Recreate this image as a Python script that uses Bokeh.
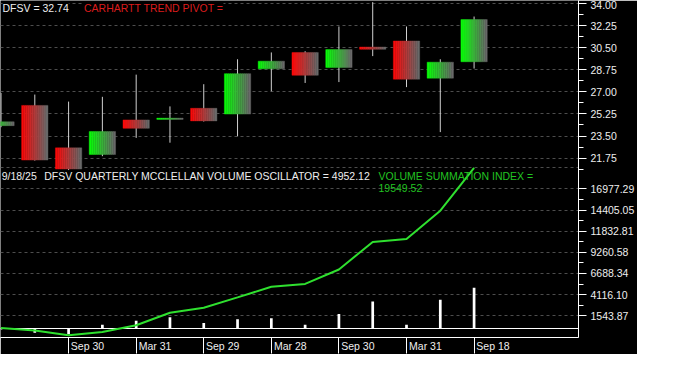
from bokeh.plotting import figure
from bokeh.models import Range1d, FixedTicker, Label
from bokeh.embed import file_html
from bokeh.resources import INLINE

# ---------------- data ----------------
quarters = ["Q1 22", "Q2 22", "Q3 22", "Q4 22", "Q1 23", "Q2 23", "Q3 23", "Q4 23",
            "Q1 24", "Q2 24", "Q3 24", "Q4 24", "Q1 25", "Q2 25", "Q3 25"]
open_ = [24.32, 25.93, 22.56, 22.03, 24.78, 24.82, 25.70, 25.24, 28.83, 30.13, 28.93, 30.56, 31.04, 28.09, 29.39]
close = [24.63, 21.59, 20.88, 23.86, 24.11, 24.92, 24.70, 28.45, 29.44, 28.32, 30.36, 30.38, 28.01, 29.36, 32.74]
high = [26.92, 26.79, 26.23, 26.61, 28.37, 25.85, 27.61, 29.59, 30.13, 30.23, 32.19, 34.12, 32.19, 29.59, 32.98]
low = [24.20, 21.55, 20.80, 21.90, 23.35, 22.97, 24.65, 23.48, 27.05, 27.71, 27.78, 29.84, 27.38, 23.81, 28.85]

vsi = [54, -263, -849, -450, 371, 1896, 2518, 3773, 5063, 5415, 7174, 10529, 10881, 14330, 19549.52]
osc = [-150, -550, -730, 450, 915, 1350, 645, 1115, 1230, 445, 1735, 3260, 445, 3495, 4952.12]

price_ticks = [34.00, 32.25, 30.50, 28.75, 27.00, 25.25, 23.50, 21.75]
price_minor = [33.125, 31.375, 29.625, 27.875, 26.125, 24.375, 22.625, 20.875]
vol_ticks = [16977.29, 14405.05, 11832.81, 9260.58, 6688.34, 4116.10, 1543.87]
vol_grid_extra = [19549.53]

date_idx = [2, 4, 6, 8, 10, 12, 14]
date_labels = ["Sep 30", "Mar 31", "Sep 29", "Mar 28", "Sep 30", "Mar 31", "Sep 18"]

# ---------------- figure ----------------
FONT = "Liberation Sans"
FS = "10.5px"
WHITE = "#eeeeee"

P0, P1 = 7.514, 34.252
V0, V1 = -1114.4, 39940.6

p = figure(frame_width=578, height=354,
           x_range=Range1d(-0.015, 17.09), y_range=Range1d(P0, P1),
           y_axis_location="right", toolbar_location=None, output_backend="svg",
           background_fill_color="black", border_fill_color="black",
           outline_line_color=None, min_border=0)
p.extra_y_ranges = {"vol": Range1d(V0, V1)}


def v2p(v):
    return P0 + (v - V0) / (V1 - V0) * (P1 - P0)


vol_pos = [v2p(v) for v in vol_ticks]
vol_minor = [v2p((a + b) / 2) for a, b in zip(vol_ticks[:-1], vol_ticks[1:])]

# grid
p.xgrid.visible = False
p.ygrid.ticker = FixedTicker(ticks=price_ticks + vol_pos + [v2p(v) for v in vol_grid_extra])
p.ygrid.grid_line_color = "#4d4d4d"
p.ygrid.grid_line_dash = "3 3"
p.ygrid.grid_line_width = 1

# right axis
ya = p.yaxis[0]
ya.ticker = FixedTicker(ticks=price_ticks + vol_pos, minor_ticks=price_minor + vol_minor)
overrides = {t: f"{t:.2f}" for t in price_ticks}
for pos, v in zip(vol_pos, vol_ticks):
    overrides[pos] = f"{v:.2f}"
ya.major_label_overrides = overrides
ya.axis_line_color = "white"
ya.major_tick_line_color = "white"
ya.minor_tick_line_color = "white"
ya.major_tick_out = 8
ya.major_tick_in = 0
ya.minor_tick_out = 5
ya.minor_tick_in = 0
ya.major_label_standoff = 4
ya.major_label_text_color = WHITE
ya.major_label_text_font = FONT
ya.major_label_text_font_size = FS

# bottom axis: separators as minor ticks, labels just right of them
xa = p.xaxis[0]
lab_off = 0.56
lab_pos = [d + lab_off for d in date_idx]
xa.ticker = FixedTicker(ticks=lab_pos, minor_ticks=date_idx)
xa.major_label_overrides = {pos: lab for pos, lab in zip(lab_pos, date_labels)}
xa.axis_line_color = "white"
xa.major_tick_out = 0
xa.major_tick_in = 0
xa.minor_tick_out = 16
xa.minor_tick_in = 0
xa.minor_tick_line_color = "white"
xa.major_label_standoff = -14
xa.major_label_text_color = WHITE
xa.major_label_text_font = FONT
xa.major_label_text_font_size = FS

# ---------------- candles ----------------
idx = list(range(len(quarters)))
p.segment(x0=idx, y0=low, x1=idx, y1=high, line_color="#d0d0d0", line_width=1)

N = 13
bw = 0.78
gray = (105, 105, 105)
L, R, T, B, C = [], [], [], [], []
for i in idx:
    up = close[i] >= open_[i]
    start = (10, 250, 10) if up else (250, 10, 10)
    for j in range(N):
        t = j / (N - 1)
        col = tuple(int(round(s * (1 - t) + g * t)) for s, g in zip(start, gray))
        left = i - bw / 2 + j * bw / N
        L.append(left)
        R.append(left + bw / N)
        T.append(max(open_[i], close[i]))
        B.append(min(open_[i], close[i]))
        C.append("#%02x%02x%02x" % col)
p.quad(left=L, right=R, top=T, bottom=B, fill_color=C, line_color=C, line_width=0.4)

# ---------------- volume panel ----------------
p.hspan(y=[0], y_range_name="vol", line_color="white", line_width=1)
p.vbar(x=idx, top=osc, bottom=0, width=0.08, y_range_name="vol",
       fill_color="white", line_color=None)
p.line(idx, vsi, y_range_name="vol", line_color="#2fe02f", line_width=2)

# ---------------- texts ----------------
def add_label(x, y, text, color, bg=None):
    lb = Label(x=x, y=y, text=text, text_color=color, text_font=FONT,
               text_font_size=FS, text_baseline="middle", text_align="left")
    if bg:
        lb.background_fill_color = bg
    p.add_layout(lb)


add_label(0.045, 33.64, "DFSV = 32.74", WHITE, "black")
add_label(2.455, 33.64, "CARHARTT TREND PIVOT =", "#dc1c1c", "black")
add_label(0.02, 20.33, "9/18/25", WHITE)
add_label(1.28, 20.33, "DFSV QUARTERLY MCCLELLAN VOLUME OSCILLATOR = 4952.12", WHITE)
add_label(11.17, 20.35, "VOLUME SUMMATION INDEX =", "#22c322")
add_label(11.17, 19.36, "19549.52", "#22c322")

open("out.html", "w").write(file_html(p, INLINE))
